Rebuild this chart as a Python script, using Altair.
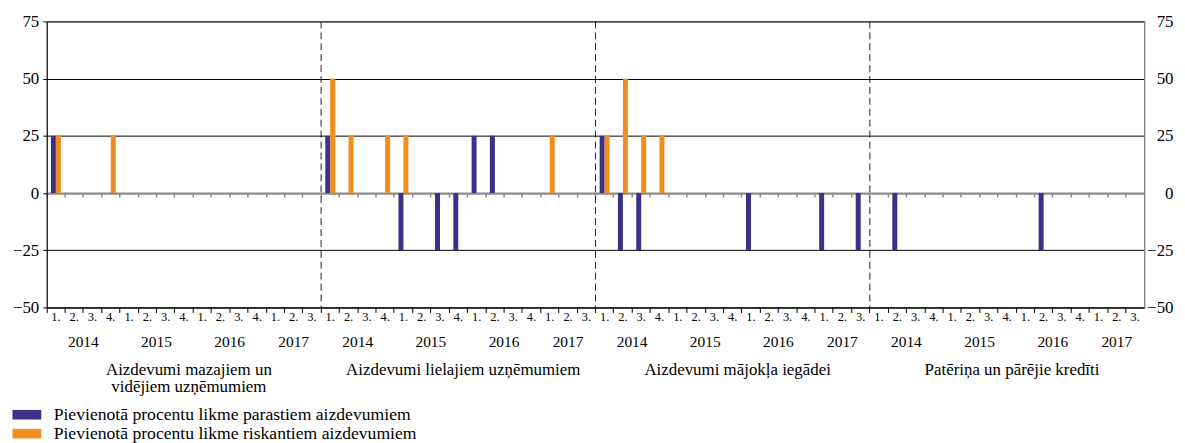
import altair as alt
import pandas as pd

FONT = "Liberation Serif"

panel_titles = [
    "Aizdevumi mazajiem un\nvidējiem uzņēmumiem",
    "Aizdevumi lielajiem uzņēmumiem",
    "Aizdevumi mājokļa iegādei",
    "Patēriņa un pārējie kredīti",
]
quarter_labels = ["1.", "2.", "3.", "4.", "1.", "2.", "3.", "4.", "1.", "2.", "3.", "4.", "1.", "2.", "3."]
quarter_years = [2014] * 4 + [2015] * 4 + [2016] * 4 + [2017] * 3
series_names = [
    "Pievienotā procentu likme parastiem aizdevumiem",
    "Pievienotā procentu likme riskantiem aizdevumiem",
]
colors = ["#3b3186", "#f28c1d"]

# values per panel, one per quarter (2014 Q1 .. 2017 Q3)
parastie = [
    [25, 0, 0, 0, 0, 0, 0, 0, 0, 0, 0, 0, 0, 0, 0],
    [25, 0, 0, 0, -25, 0, -25, -25, 25, 25, 0, 0, 0, 0, 0],
    [25, -25, -25, 0, 0, 0, 0, 0, -25, 0, 0, 0, -25, 0, -25],
    [0, -25, 0, 0, 0, 0, 0, 0, 0, -25, 0, 0, 0, 0, 0],
]
riskantie = [
    [25, 0, 0, 25, 0, 0, 0, 0, 0, 0, 0, 0, 0, 0, 0],
    [50, 25, 0, 25, 25, 0, 0, 0, 0, 0, 0, 0, 25, 0, 0],
    [25, 50, 25, 25, 0, 0, 0, 0, 0, 0, 0, 0, 0, 0, 0],
    [0, 0, 0, 0, 0, 0, 0, 0, 0, 0, 0, 0, 0, 0, 0],
]

# ---- build tables ----
def key(p, i):
    return f"{p}|{quarter_years[i]}|{quarter_labels[i]}"

keys = [key(p, i) for p in range(len(panel_titles)) for i in range(len(quarter_labels))]

rows = []
for p in range(len(panel_titles)):
    for i in range(len(quarter_labels)):
        rows.append({"key": key(p, i), "series": series_names[0], "value": parastie[p][i]})
        rows.append({"key": key(p, i), "series": series_names[1], "value": riskantie[p][i]})
bars_df = pd.DataFrame(rows)

years = sorted(set(quarter_years))
year_even, year_odd = [], []
for p in range(len(panel_titles)):
    for y in years:
        idx = [i for i, yy in enumerate(quarter_years) if yy == y]
        anchor = key(p, idx[len(idx) // 2])
        (year_even if len(idx) % 2 == 0 else year_odd).append({"key": anchor, "label": str(y)})
year_even_df = pd.DataFrame(year_even)
year_odd_df = pd.DataFrame(year_odd)

mid = len(quarter_labels) // 2
title_df = pd.DataFrame([{"key": key(p, mid), "label": t} for p, t in enumerate(panel_titles)])
div_df = pd.DataFrame([{"key": key(p, 0)} for p in range(1, len(panel_titles))])

W, H = 1105, 288
x_scale = alt.Scale(domain=keys, paddingInner=0, paddingOuter=0)
y_scale = alt.Scale(domain=[-50, 75], nice=False, zero=False)
zero_offset = -H * 50 / 125

bars = alt.Chart(bars_df).transform_filter("datum.value != 0").mark_bar().encode(
    x=alt.X("key:N", scale=x_scale, title=None, axis=alt.Axis(
        orient="bottom", bandPosition=0, labelExpr="split(datum.value, '|')[2]",
        labelAngle=0, labelFont=FONT, labelFontSize=12.5, labelColor="black",
        labelPadding=-2, labelOverlap=False, tickColor="black", tickSize=5,
        domainColor="black", grid=False)),
    xOffset=alt.XOffset("series:N", scale=alt.Scale(domain=series_names, paddingInner=0, paddingOuter=0.84)),
    y=alt.Y("value:Q", scale=y_scale, title=None, axis=alt.Axis(
        values=[-50, -25, 0, 25, 50, 75], grid=True, gridColor="black", gridWidth=1,
        domainColor="black", tickColor="black", tickSize=4, labelPadding=4,
        labelFont=FONT, labelFontSize=17, labelColor="black")),
    color=alt.Color("series:N", scale=alt.Scale(domain=series_names, range=colors), legend=alt.Legend(
        orient="none", legendX=-30, legendY=386, direction="vertical", title=None,
        symbolType="M-1.5,-0.5H1.5V0.5H-1.5Z", symbolSize=374, symbolStrokeWidth=0, symbolOpacity=1,
        labelFont=FONT, labelFontSize=17.75, labelColor="black", labelOffset=17, labelLimit=0,
        rowPadding=0, padding=0)),
)

zero_axis = alt.Chart(bars_df).mark_bar(opacity=0).encode(
    x=alt.X("key:N", title=None, axis=alt.Axis(
        orient="bottom", bandPosition=0, offset=zero_offset, labels=False, tickColor="#8c8c8c",
        tickSize=4, tickWidth=1.5, domainColor="#8c8c8c", domainWidth=2, grid=False)),
    y=alt.Y("value:Q", title=None, axis=alt.Axis(
        orient="right", values=[-50, -25, 0, 25, 50, 75], grid=False, domainColor="#808080",
        ticks=False, labelPadding=29, labelAlign="right",
        labelFont=FONT, labelFontSize=17, labelColor="black")),
)

dividers = alt.Chart(div_df).mark_rule(strokeDash=[7, 4], color="#222222", strokeWidth=1).encode(
    x=alt.X("key:N", bandPosition=0, axis=None),
)

year_a = alt.Chart(year_even_df).mark_text(font=FONT, fontSize=15.5, color="black", baseline="alphabetic").encode(
    x=alt.X("key:N", bandPosition=0, axis=None), y=alt.value(328), text="label:N")
year_b = alt.Chart(year_odd_df).mark_text(font=FONT, fontSize=15.5, color="black", baseline="alphabetic").encode(
    x=alt.X("key:N", bandPosition=0.5, axis=None), y=alt.value(328), text="label:N")

titles = alt.Chart(title_df).mark_text(font=FONT, fontSize=17, color="black", baseline="alphabetic",
                                        lineBreak="\n", lineHeight=17, dx=5).encode(
    x=alt.X("key:N", bandPosition=0.5, axis=None), y=alt.value(356), text="label:N")

chart = alt.layer(bars, zero_axis, dividers, year_a, year_b, titles).resolve_axis(
    x="independent", y="independent"
).properties(
    width=W, height=H,
    autosize=alt.AutoSizeParams(type="none"),
    padding={"left": 39, "top": 12, "right": 33, "bottom": 143},
).configure_view(stroke="#7f7f7f", strokeWidth=1)

chart.save("out.html", embed_options={"renderer": "svg", "actions": False})
